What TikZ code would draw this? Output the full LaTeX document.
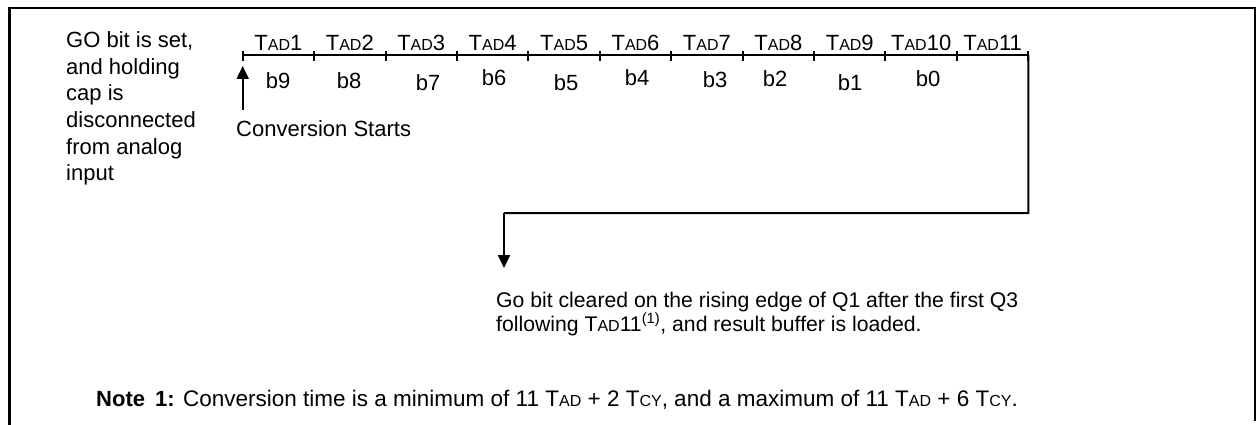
\documentclass[tikz,border=0pt]{standalone}
\usepackage{fontspec}
\setmainfont{Liberation Sans}
\usetikzlibrary{arrows.meta}
\newcommand\smc[1]{{\fontsize{16}{16}\selectfont #1}}
\newcommand\tadx[1]{T\smc{AD}#1}
\begin{document}
\begin{tikzpicture}[x=1pt,y=-1pt,
  txt/.style={inner sep=0pt,anchor=base west,font=\fontsize{22}{26}\selectfont},
  gotxt/.style={inner sep=0pt,anchor=base west,font=\fontsize{21.2}{25}\selectfont},
  notetxt/.style={inner sep=0pt,anchor=base west,font=\fontsize{22.5}{26}\selectfont},
  notelbl/.style={inner sep=0pt,anchor=base west,font=\fontsize{22}{26}\selectfont\bfseries},
  lbl/.style={inner sep=0pt,anchor=base,font=\fontsize{22}{26}\selectfont},
  tline/.style={line width=2pt},
  frame/.style={line width=2.5pt},
  arr/.style={line width=2pt,-{Triangle[length=13pt,width=12pt]}}]
\useasboundingbox (0,0) rectangle (1257,425);
% frame
\draw[frame] (9.5,425) -- (9.5,8) -- (1256,8);
\draw[line width=1.5pt] (1255,8) -- (1255,421);
% left text
\node[txt] (l1) at (66,48) {GO bit is set,};
\node[txt] (l2) at (66,74.5) {and holding};
\node[txt] (l3) at (66,101) {cap is};
\node[txt] (l4) at (66,127.5) {disconnected};
\node[txt] (l5) at (66,154) {from analog};
\node[txt] (l6) at (66,180.5) {input};
% timeline
\foreach \i in {0,...,11} {
  \coordinate (t\i) at ({242.7+71.42*\i},55);
  \draw[line width=2pt] ({242.7+71.42*\i},51) -- ({242.7+71.42*\i},61);
}
\draw[tline] (t0) -- (t11);
\foreach \i in {1,...,11} {
  \node[lbl] (tad\i) at ({242.7+71.42*(\i-0.5)},51) {\tadx{\i}};
}
% bit labels
\node[lbl] (b9) at (278,89) {b9};
\node[lbl] (b8) at (349,89) {b8};
\node[lbl] (b7) at (428,91) {b7};
\node[lbl] (b6) at (494,86) {b6};
\node[lbl] (b5) at (566,91) {b5};
\node[lbl] (b4) at (637,86) {b4};
\node[lbl] (b3) at (715,88) {b3};
\node[lbl] (b2) at (775,87) {b2};
\node[lbl] (b1) at (850,91) {b1};
\node[lbl] (b0) at (928,87) {b0};
% conversion starts
\coordinate (up0) at (242.7,110);
\coordinate (up1) at (242.7,66);
\draw[arr] (up0) -- (up1);
\node[txt] (cs) at (236,136) {Conversion Starts};
% return path
\coordinate (c1) at (1028.3,213);
\coordinate (c2) at (504,213);
\coordinate (c3) at (504,268);
\draw[line width=2pt] (t11) -- (c1) -- (c2);
\draw[arr] (c2) -- (c3);
\node[gotxt] (gb1) at (496,307) {Go bit cleared on the rising edge of Q1 after the first Q3};
\node[gotxt] (gb2) at (496,331) {following \tadx{11}\textsuperscript{(1)}, and result buffer is loaded.};
% note
\node[notelbl] (n1) at (96,406) {Note};
\node[notelbl] (n1b) at (155,406) {1:};
\node[notetxt] (n2) at (183,406) {Conversion time is a minimum of 11 \tadx{} + 2 T\smc{CY}, and a maximum of 11 \tadx{} + 6 T\smc{CY}.};
\end{tikzpicture}
\end{document}
